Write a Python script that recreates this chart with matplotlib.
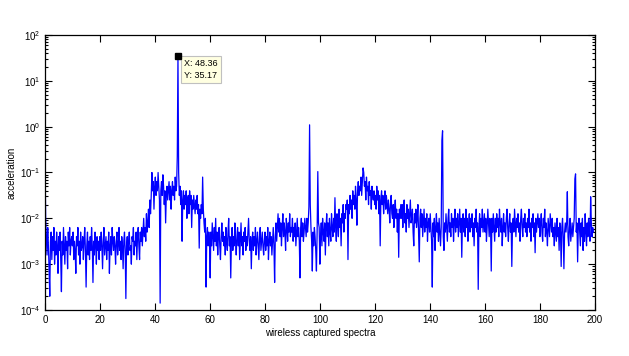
import numpy as np
import matplotlib
matplotlib.use('Agg')
from matplotlib import pyplot as plt
from matplotlib.ticker import LogLocator, NullFormatter

plt.rcParams['font.family'] = ['Liberation Sans', 'DejaVu Sans']
plt.rcParams['mathtext.default'] = 'regular'

# spectrum, stored as log10(acceleration), 20 bins per row
freq_step = 0.24928
log_acc = [
    -0.65, -2.0, -2.4, -2.8, -2.2, -2.6, -3.1, -3.7, -2.5, -2.3, -2.9, -2.4, -2.7, -2.2, -3.0, -2.5, -2.8, -2.3, -2.6, -3.2,
    -2.4, -2.7, -2.3, -2.9, -3.6, -2.5, -2.8, -2.2, -2.6, -3.0, -2.4, -2.7, -2.5, -3.1, -2.3, -2.6, -2.2, -2.8, -2.5, -2.4,
    -2.6, -2.3, -2.9, -2.5, -2.7, -3.2, -2.4, -2.6, -2.2, -2.8, -2.5, -3.0, -2.3, -2.7, -2.6, -2.4, -2.9, -2.5, -2.2, -2.7,
    -3.5, -2.6, -2.3, -2.8, -2.5, -2.9, -2.4, -2.7, -2.2, -2.6, -3.4, -2.5, -2.8, -2.3, -2.6, -3.0, -2.4, -2.7, -2.5, -2.9,
    -2.4, -2.7, -2.3, -2.6, -3.1, -2.5, -2.2, -2.8, -2.6, -2.4, -2.9, -2.5, -2.7, -2.3, -3.2, -2.6, -2.4, -2.8, -2.2, -2.5,
    -2.7, -2.4, -2.6, -3.0, -2.5, -2.3, -2.8, -2.6, -2.2, -2.7, -2.5, -2.9, -2.4, -2.6, -3.1, -2.5, -2.3, -2.7, -3.75, -2.6,
    -2.4, -2.8, -2.5, -2.3, -2.7, -2.6, -3.0, -2.4, -2.5, -2.2, -2.8, -2.5, -2.6, -2.3, -2.9, -2.4, -2.2, -2.6, -2.9, -2.3,
    -2.5, -2.2, -2.6, -2.3, -2.0, -2.4, -2.2, -2.5, -1.9, -2.3, -2.1, -1.8, -2.2, -1.6, -1.9, -1.5, -1.0, -1.4, -1.2, -1.8,
    -1.3, -1.1, -1.5, -1.2, -1.4, -1.0, -1.3, -1.6, -3.85, -1.4, -1.2, -1.5, -1.05, -1.3, -1.7, -1.4, -2.1, -1.5, -1.3, -1.6,
    -1.4, -1.2, -1.6, -1.3, -1.8, -1.4, -1.2, -1.5, -1.3, -1.6, -1.1, -1.4, -1.3, -0.65, 1.546, -1.0, -1.5, -1.3, -1.7, -1.4,
    -2.5, -1.6, -1.4, -1.8, -1.5, -1.7, -1.4, -2.0, -1.6, -1.5, -1.9, -1.4, -1.7, -1.5, -2.2, -1.6, -1.8, -1.5, -1.7, -1.9,
    -1.6, -1.8, -1.5, -1.9, -1.7, -2.65, -1.8, -2.0, -1.7, -1.9, -1.1, -1.8, -2.1, -2.3, -2.0, -3.5, -2.4, -2.2, -2.6, -2.3,
    -2.5, -3.3, -2.3, -2.6, -2.1, -2.4, -2.7, -2.2, -2.5, -2.0, -2.6, -2.3, -2.8, -2.4, -2.2, -2.6, -2.9, -2.4, -2.1, -2.5,
    -2.3, -2.6, -2.4, -2.8, -2.2, -2.5, -2.7, -2.3, -2.0, -2.6, -2.4, -3.3, -2.5, -2.2, -2.7, -2.4, -2.6, -2.1, -2.5, -2.8,
    -2.4, -2.2, -2.6, -2.3, -2.9, -2.5, -2.1, -2.6, -2.4, -2.8, -2.3, -2.5, -2.2, -2.7, -2.4, -2.6, -2.3, -2.0, -2.5, -2.7,
    -2.4, -3.1, -2.5, -2.3, -2.7, -2.4, -2.6, -2.2, -2.8, -2.5, -2.3, -2.6, -2.9, -2.4, -2.2, -2.7, -2.5, -2.3, -2.6, -2.8,
    -2.5, -2.3, -2.7, -2.4, -2.6, -2.2, -2.9, -2.5, -2.3, -2.6, -2.4, -2.8, -2.5, -2.2, -2.6, -3.4, -2.4, -2.1, -2.5, -2.2,
    -1.9, -2.3, -2.0, -2.4, -2.1, -2.6, -2.2, -1.9, -2.4, -2.1, -2.3, -2.7, -2.0, -2.2, -2.5, -2.1, -2.3, -1.9, -2.4, -2.2,
    -2.3, -2.0, -2.5, -2.2, -2.4, -2.1, -2.6, -2.3, -2.0, -2.4, -2.2, -2.5, -3.3, -2.2, -2.0, -2.4, -2.1, -2.5, -2.3, -2.0,
    -2.2, -2.4, -2.0, -2.3, -2.1, -1.75, 0.04, -1.7, -2.2, -2.5, -3.15, -2.3, -2.6, -2.2, -2.4, -2.7, -3.15, -2.3, -0.98, -2.1,
    -2.2, -3.0, -2.4, -2.1, -2.6, -2.0, -2.3, -2.5, -2.1, -2.8, -2.2, -1.9, -2.4, -2.1, -2.6, -2.0, -2.3, -2.5, -1.9, -2.2,
    -2.4, -2.0, -2.3, -1.55, -2.2, -2.5, -1.9, -2.1, -2.4, -1.8, -2.2, -2.0, -2.6, -1.9, -2.1, -1.7, -2.3, -1.9, -2.0, -1.7,
    -1.8, -1.6, -2.9, -1.7, -1.9, -1.5, -1.8, -1.6, -2.0, -1.4, -1.7, -1.5, -1.8, -1.3, -1.6, -2.15, -1.4, -1.2, -1.5, -1.3,
    -1.4, -1.1, -1.5, -1.2, -0.9, -1.0, -1.3, -1.2, -1.6, -1.1, -1.4, -1.3, -1.7, -1.2, -1.5, -1.4, -1.8, -1.3, -1.5, -1.6,
    -1.4, -1.7, -1.5, -1.8, -1.3, -1.6, -1.4, -1.9, -1.5, -2.6, -1.6, -1.4, -1.7, -1.5, -1.9, -1.6, -1.4, -1.8, -1.5, -1.7,
    -1.9, -1.6, -1.8, -2.1, -1.7, -1.5, -1.9, -2.0, -1.7, -2.2, -1.8, -1.6, -2.0, -1.8, -2.3, -1.9, -2.85, -1.8, -2.0, -1.7,
    -2.0, -1.7, -2.2, -1.8, -1.6, -2.1, -1.9, -2.3, -1.7, -2.0, -1.8, -2.2, -1.9, -1.6, -2.1, -2.0, -1.8, -2.3, -2.6, -1.9,
    -2.1, -1.8, -2.2, -2.0, -1.7, -2.3, -2.95, -2.0, -1.8, -2.2, -1.9, -2.4, -2.1, -1.8, -2.3, -2.0, -2.2, -1.9, -2.5, -2.1,
    -2.0, -2.3, -1.9, -2.2, -2.5, -3.5, -2.1, -2.4, -2.0, -2.7, -2.2, -1.9, -2.3, -2.1, -2.5, -2.0, -2.3, -2.6, -2.2, -0.3,
    -0.09, -2.4, -2.7, -2.1, -2.3, -1.9, -2.2, -2.5, -2.0, -1.8, -2.3, -2.1, -2.4, -1.9, -2.2, -2.0, -2.5, -2.1, -1.8, -2.3,
    -2.0, -2.2, -1.9, -2.4, -2.1, -1.8, -2.3, -2.0, -2.85, -2.1, -1.9, -2.3, -2.0, -2.4, -1.8, -2.2, -2.0, -2.5, -2.1, -1.9,
    -2.3, -2.0, -2.2, -1.9, -2.4, -2.1, -2.6, -2.0, -2.2, -1.8, -2.3, -2.1, -3.55, -2.2, -1.9, -2.4, -2.0, -2.2, -1.8, -2.3,
    -2.1, -1.9, -2.3, -2.0, -2.5, -2.2, -1.8, -2.1, -2.4, -2.0, -2.2, -3.15, -2.0, -2.3, -1.9, -2.2, -2.5, -2.0, -2.3, -1.9,
    -2.2, -2.0, -2.4, -1.8, -2.1, -2.3, -2.0, -2.6, -2.2, -1.9, -2.3, -2.1, -2.4, -2.0, -1.8, -2.2, -2.5, -2.1, -1.9, -2.3,
    -2.1, -3.05, -2.2, -2.0, -2.3, -1.8, -2.1, -2.4, -2.0, -2.2, -1.9, -2.3, -2.1, -2.5, -2.0, -1.8, -2.2, -2.4, -2.0, -2.2,
    -1.9, -2.3, -2.1, -2.4, -2.0, -2.2, -1.8, -2.3, -2.1, -2.5, -2.0, -2.2, -1.9, -2.4, -2.1, -2.75, -2.0, -2.3, -2.1, -1.9,
    -2.2, -2.0, -2.4, -2.1, -1.9, -2.3, -2.5, -2.0, -2.2, -1.8, -2.4, -2.1, -2.3, -2.6, -2.0, -2.2, -2.4, -1.9, -2.1, -2.3,
    -2.0, -2.4, -2.2, -2.6, -2.1, -2.3, -2.5, -2.0, -2.4, -2.2, -2.7, -2.1, -2.3, -3.05, -2.2, -2.0, -2.4, -3.1, -2.3, -2.1,
    -2.3, -2.1, -1.42, -2.4, -2.6, -2.2, -2.0, -2.5, -2.3, -2.1, -2.4, -2.2, -2.0, -1.14, -1.03, -2.3, -2.1, -2.95, -2.2, -2.0,
    -2.3, -2.6, -2.1, -2.4, -2.0, -2.7, -2.2, -2.5, -1.9, -2.3, -2.6, -2.1, -2.4, -2.0, -2.2, -2.5, -1.53, -2.1, -2.4, -2.2,
    -2.3,
]

freq = np.arange(len(log_acc)) * freq_step
acc = 10 ** np.array(log_acc)

tip_x, tip_y = 48.36, 35.17

fig = plt.figure(figsize=(6.29, 3.56), dpi=100)
ax = fig.add_axes([0.0715, 0.1292, 0.8744, 0.7725])

ax.plot(freq, acc, color='#0000ff', lw=0.9)
ax.set_yscale('log')
ax.set_xlim(0, 200)
ax.set_ylim(1e-4, 1e2)
ax.set_xticks(np.arange(0, 201, 20))
ax.yaxis.set_major_locator(LogLocator(base=10, numticks=10))
ax.yaxis.set_minor_locator(LogLocator(base=10, subs=np.arange(2, 10), numticks=10))
ax.yaxis.set_minor_formatter(NullFormatter())
ax.tick_params(which='both', direction='in', top=True, right=True, labelsize=7, width=0.8)
ax.tick_params(which='major', length=5)
ax.tick_params(which='minor', length=2.5)
for s in ax.spines.values():
    s.set_linewidth(0.9)

ax.set_xlabel('wireless captured spectra', fontsize=7, labelpad=2)
ax.set_ylabel('acceleration', fontsize=7, labelpad=2)

# data tip
ax.plot([tip_x], [tip_y], 's', color='black', ms=4.5, zorder=5)
ax.annotate('X: %.2f\nY: %.2f' % (tip_x, tip_y), xy=(tip_x, tip_y), xytext=(4.3, -2.5),
            textcoords='offset points', ha='left', va='top', fontsize=6.5, linespacing=1.4,
            bbox=dict(boxstyle='square,pad=0.35', fc='#ffffe1', ec='#c0c0c0', lw=0.8))

fig.savefig('out.png', dpi=100)
